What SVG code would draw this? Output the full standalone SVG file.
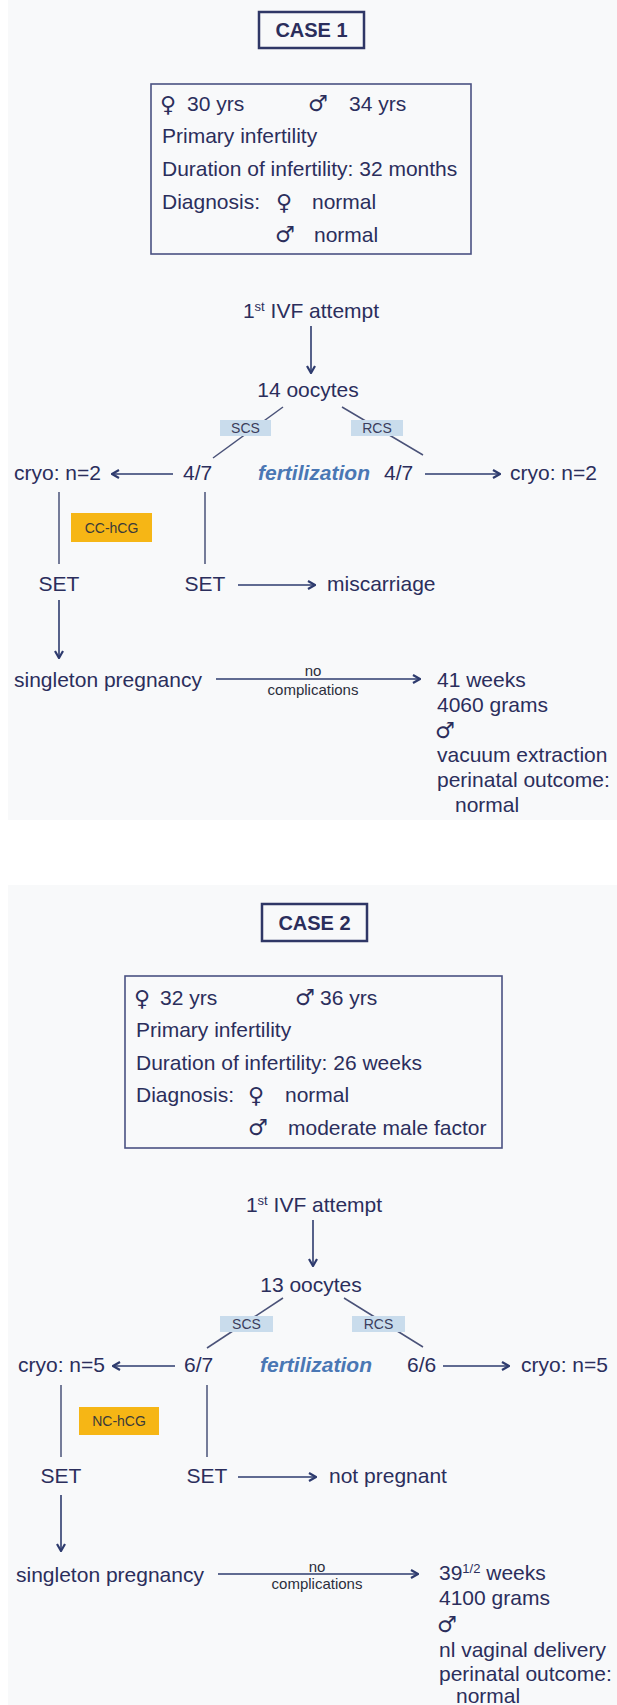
<svg xmlns="http://www.w3.org/2000/svg" width="617" height="1705" viewBox="0 0 617 1705">
<style>
text{font-family:"Liberation Sans",Arial,sans-serif;fill:#2b2e5c;font-size:21px}
.sym{font-family:"DejaVu Sans",sans-serif;font-size:22px}
.title{font-weight:bold;font-size:20px;text-anchor:middle}
.fert{font-weight:bold;font-style:italic;fill:#4a77b4}
.sm{font-size:14px;text-anchor:middle;fill:#3a3d5c}
.tag{font-size:14px;text-anchor:middle;fill:#3a3a3a}
.nc{font-size:15px;text-anchor:middle;fill:#2b2e3c}
.mid{text-anchor:middle}
.sup{font-size:13px}
.tbox{fill:none;stroke:#2f3766;stroke-width:2.5}
.ibox{fill:none;stroke:#4a5282;stroke-width:1.6}
.blue{fill:#c9dcec}
.gold{fill:#f6b615}
.ln{stroke:#4a5278;stroke-width:1.5;fill:none}
.ar{stroke:#2e3b6e;stroke-width:1.6;fill:none;marker-end:url(#ah)}
</style>
<defs>
<marker id="ah" viewBox="0 0 10 10" refX="9" refY="5" markerWidth="10" markerHeight="10" markerUnits="userSpaceOnUse" orient="auto">
<path d="M2,1 L9,5 L2,9" fill="none" stroke="#2e3b6e" stroke-width="2.2"/>
</marker>
</defs>
<rect x="0" y="0" width="617" height="1705" fill="#ffffff"/>
<rect x="8" y="0" width="609" height="820" fill="#f8f9fa"/>
<rect x="8" y="885" width="609" height="820" fill="#f8f9fa"/>

<g id="connectors">
<!-- case 1 -->
<line class="ar" x1="311" y1="326" x2="311" y2="373"/>
<line class="ln" x1="283" y1="407" x2="213" y2="458"/>
<line class="ln" x1="342" y1="407" x2="423" y2="455"/>
<line class="ar" x1="173" y1="474" x2="112" y2="474"/>
<line class="ar" x1="425" y1="474" x2="500" y2="474"/>
<line class="ln" x1="59" y1="492" x2="59" y2="564"/>
<line class="ln" x1="205" y1="492" x2="205" y2="564"/>
<line class="ar" x1="238" y1="585" x2="315" y2="585"/>
<line class="ar" x1="59" y1="600" x2="59" y2="658"/>
<line class="ar" x1="216" y1="679" x2="420" y2="679"/>
<text class="nc" x="313" y="676">no</text>
<text class="nc" x="313" y="695">complications</text>
<!-- case 2 -->
<line class="ar" x1="313" y1="1220" x2="313" y2="1266"/>
<line class="ln" x1="283" y1="1298" x2="207" y2="1348"/>
<line class="ln" x1="344" y1="1298" x2="423" y2="1347"/>
<line class="ar" x1="175" y1="1366" x2="113" y2="1366"/>
<line class="ar" x1="443" y1="1366" x2="509" y2="1366"/>
<line class="ln" x1="61" y1="1385" x2="61" y2="1457"/>
<line class="ln" x1="207" y1="1385" x2="207" y2="1457"/>
<line class="ar" x1="238" y1="1477" x2="316" y2="1477"/>
<line class="ar" x1="61" y1="1495" x2="61" y2="1551"/>
<line class="ar" x1="218" y1="1574" x2="418" y2="1574"/>
<text class="nc" x="317" y="1572">no</text>
<text class="nc" x="317" y="1589">complications</text>
</g>

<!-- CASE 1 -->
<g id="case1-title"><rect class="tbox" x="259" y="12" width="105" height="36"/><text class="title" x="311.5" y="37">CASE 1</text></g>
<g id="case1-info">
<rect class="ibox" x="151" y="84" width="320" height="170"/>
<text class="sym" x="160" y="112">♀</text><text x="187" y="111">30 yrs</text>
<text class="sym" x="308" y="111">♂</text><text x="349" y="111">34 yrs</text>
<text x="162" y="143">Primary infertility</text>
<text x="162" y="176">Duration of infertility: 32 months</text>
<text x="162" y="209">Diagnosis:</text><text class="sym" x="276" y="210">♀</text><text x="312" y="209">normal</text>
<text class="sym" x="275" y="242">♂</text><text x="314" y="242">normal</text>
</g>
<g id="case1-ivf"><text class="mid" x="311" y="318">1<tspan class="sup" dy="-7">st</tspan><tspan dy="7"> IVF attempt</tspan></text></g>
<g id="case1-oocytes"><text class="mid" x="308" y="397">14 oocytes</text></g>
<g id="case1-scs"><rect class="blue" x="220" y="420" width="51" height="16"/><text class="sm" x="245.5" y="433">SCS</text></g>
<g id="case1-rcs"><rect class="blue" x="351" y="420" width="52" height="16"/><text class="sm" x="377" y="433">RCS</text></g>
<g id="case1-cryoL"><text x="14" y="480">cryo: n=2</text></g>
<g id="case1-scsres"><text x="183" y="480">4/7</text></g>
<g id="case1-fert"><text class="fert" x="258" y="480">fertilization</text></g>
<g id="case1-rcsres"><text x="384" y="480">4/7</text></g>
<g id="case1-cryoR"><text x="510" y="480">cryo: n=2</text></g>
<g id="case1-cchcg"><rect class="gold" x="71" y="513" width="81" height="29"/><text class="tag" x="111.5" y="533">CC-hCG</text></g>
<g id="case1-setL"><text class="mid" x="59" y="591">SET</text></g>
<g id="case1-setM"><text class="mid" x="205" y="591">SET</text></g>
<g id="case1-misc"><text x="327" y="591">miscarriage</text></g>
<g id="case1-preg"><text x="14" y="687">singleton pregnancy</text></g>
<g id="case1-outcome">
<text x="437" y="687">41 weeks</text>
<text x="437" y="712">4060 grams</text>
<text class="sym" x="435" y="738">♂</text>
<text x="437" y="762">vacuum extraction</text>
<text x="437" y="787">perinatal outcome:</text>
<text x="455" y="812">normal</text>
</g>

<!-- CASE 2 -->
<g id="case2-title"><rect class="tbox" x="262" y="904" width="105" height="37"/><text class="title" x="314.5" y="930">CASE 2</text></g>
<g id="case2-info">
<rect class="ibox" x="125" y="976" width="377" height="172"/>
<text class="sym" x="134" y="1006">♀</text><text x="160" y="1005">32 yrs</text>
<text class="sym" x="295" y="1005">♂</text><text x="320" y="1005">36 yrs</text>
<text x="136" y="1037">Primary infertility</text>
<text x="136" y="1070">Duration of infertility: 26 weeks</text>
<text x="136" y="1102">Diagnosis:</text><text class="sym" x="248" y="1103">♀</text><text x="285" y="1102">normal</text>
<text class="sym" x="248" y="1135">♂</text><text x="288" y="1135">moderate male factor</text>
</g>
<g id="case2-ivf"><text class="mid" x="314" y="1212">1<tspan class="sup" dy="-7">st</tspan><tspan dy="7"> IVF attempt</tspan></text></g>
<g id="case2-oocytes"><text class="mid" x="311" y="1292">13 oocytes</text></g>
<g id="case2-scs"><rect class="blue" x="220" y="1316" width="53" height="16"/><text class="sm" x="246.5" y="1329">SCS</text></g>
<g id="case2-rcs"><rect class="blue" x="352" y="1316" width="53" height="16"/><text class="sm" x="378.5" y="1329">RCS</text></g>
<g id="case2-cryoL"><text x="18" y="1372">cryo: n=5</text></g>
<g id="case2-scsres"><text x="184" y="1372">6/7</text></g>
<g id="case2-fert"><text class="fert" x="260" y="1372">fertilization</text></g>
<g id="case2-rcsres"><text x="407" y="1372">6/6</text></g>
<g id="case2-cryoR"><text x="521" y="1372">cryo: n=5</text></g>
<g id="case2-nchcg"><rect class="gold" x="79" y="1407" width="80" height="28"/><text class="tag" x="119" y="1426">NC-hCG</text></g>
<g id="case2-setL"><text class="mid" x="61" y="1483">SET</text></g>
<g id="case2-setM"><text class="mid" x="207" y="1483">SET</text></g>
<g id="case2-notpreg"><text x="329" y="1483">not pregnant</text></g>
<g id="case2-preg"><text x="16" y="1582">singleton pregnancy</text></g>
<g id="case2-outcome">
<text x="439" y="1580">39<tspan class="sup" dy="-7">1/2</tspan><tspan dy="7"> weeks</tspan></text>
<text x="439" y="1605">4100 grams</text>
<text class="sym" x="437" y="1632">♂</text>
<text x="439" y="1657">nl vaginal delivery</text>
<text x="439" y="1681">perinatal outcome:</text>
<text x="456" y="1703">normal</text>
</g>
</svg>
